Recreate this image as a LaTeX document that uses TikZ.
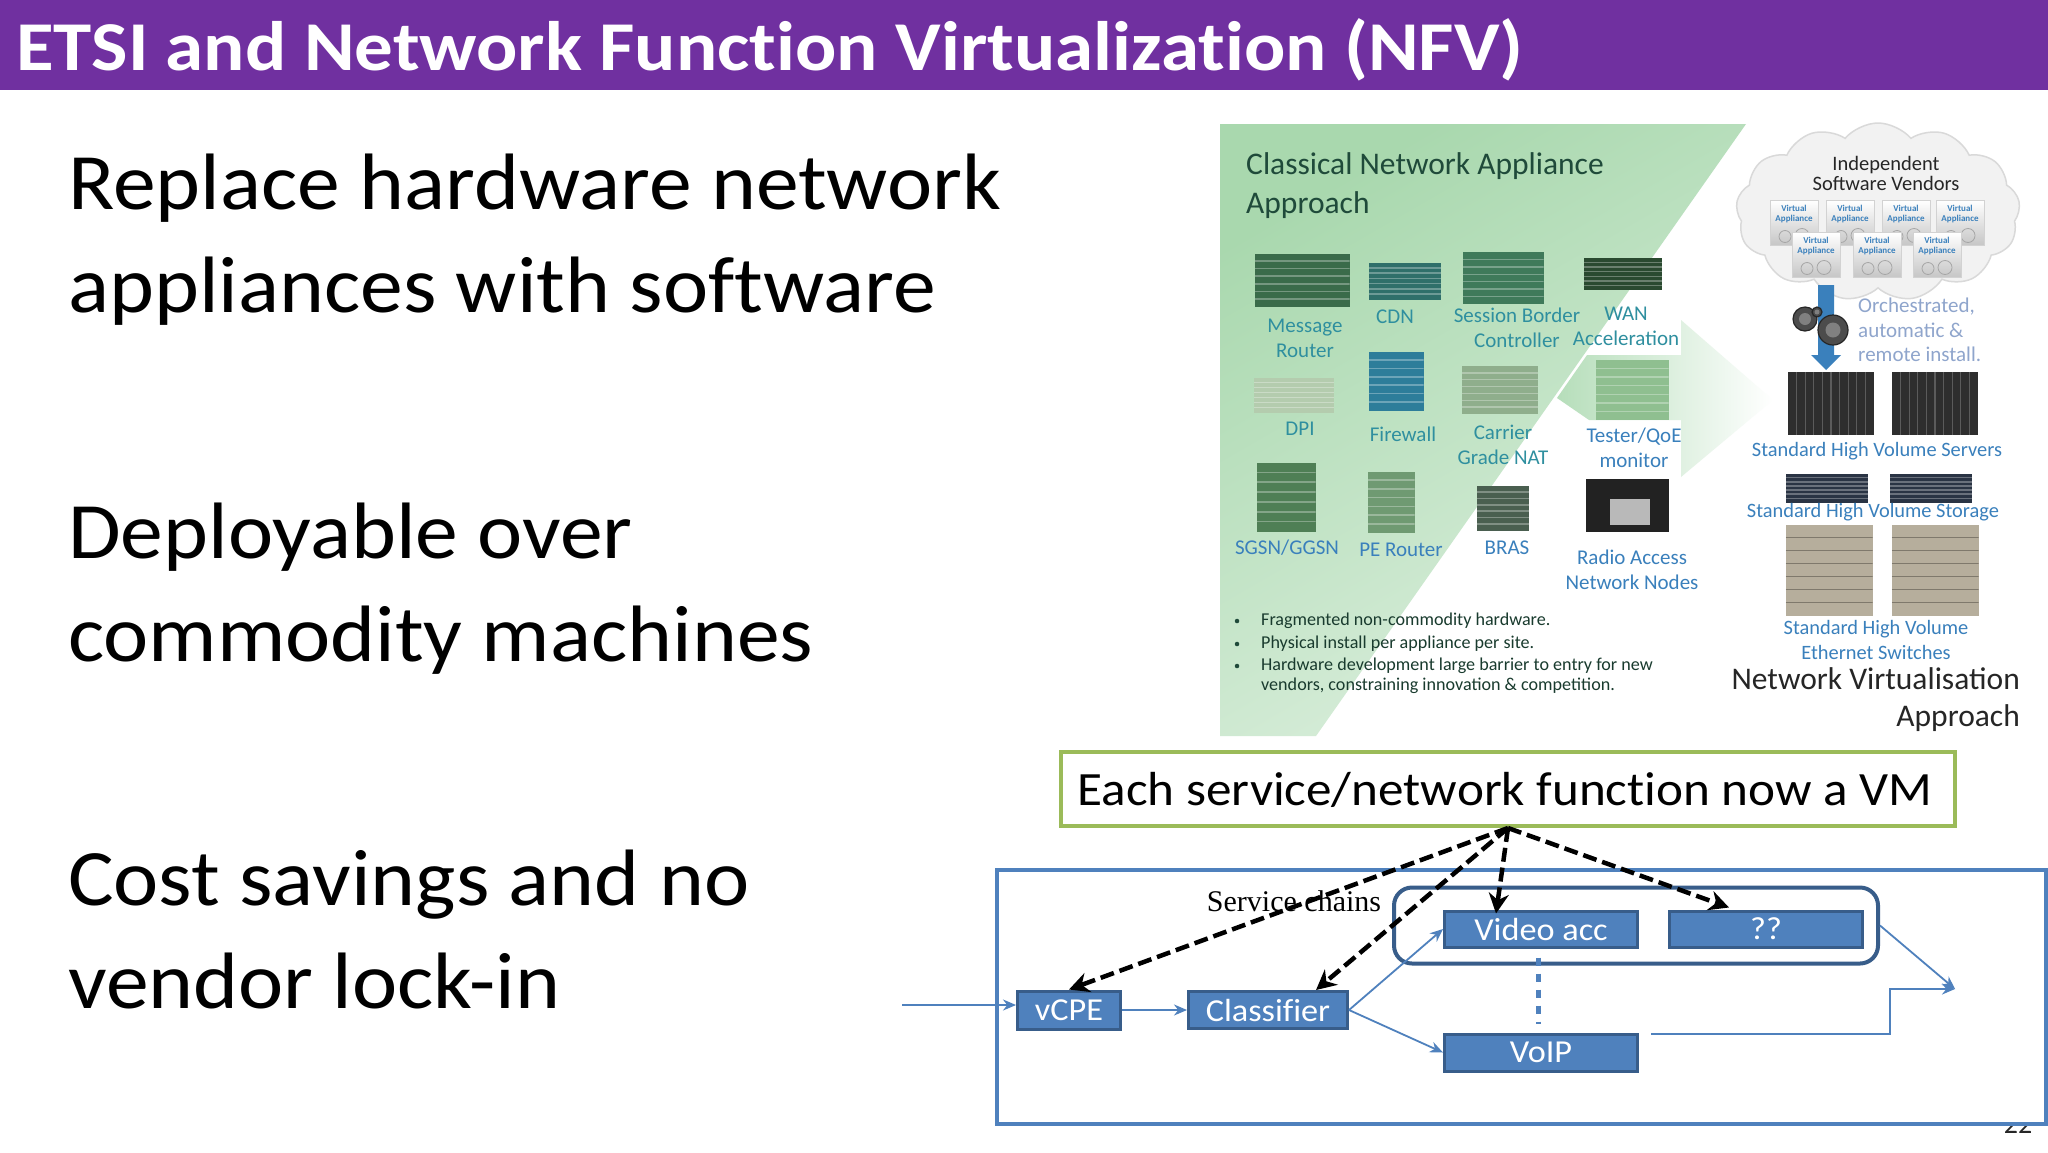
\documentclass[tikz,border=0pt]{standalone}
\usepackage{fontspec}
\setmainfont{Carlito}
\newfontfamily\timesfont{Liberation Serif}
\newfontfamily\slidefont{Carlito}[FakeStretch=1.07,Ligatures=NoCommon,BoldFeatures={FakeStretch=1.1}]
\usetikzlibrary{shapes,arrows,arrows.meta,positioning,fit,calc}
\definecolor{headpurple}{HTML}{7030A0}
\definecolor{vmblue}{HTML}{4F81BD}
\definecolor{vmedge}{HTML}{385D8A}
\definecolor{vmgreen}{HTML}{9BBB59}
\definecolor{classicgreen}{HTML}{A9D8AE}
\definecolor{inkgreen}{HTML}{1F4A3A}
\definecolor{tealtext}{HTML}{2F8F9F}
\definecolor{bluetext}{HTML}{3A80BC}
\definecolor{orchtext}{HTML}{8FA5CC}
\definecolor{cloudfill}{HTML}{F2F2F2}
\definecolor{radiobg}{HTML}{222222}
\begin{document}
\begin{tikzpicture}[
        x=1pt, y=-1pt,
        node distance=30pt,
        point/.style={font=\slidefont\fontsize{80}{100}\selectfont, anchor=base west, inner sep=0pt},
        hwlabel/.style={font=\fontsize{21}{25}\selectfont, text=tealtext, align=center, inner sep=0pt},
        nvlabel/.style={font=\fontsize{20.4}{25}\selectfont, text=bluetext, align=center, inner sep=0pt},
        bullettxt/.style={font=\fontsize{18.1}{22}\selectfont, text=inkgreen!80!black, anchor=west, inner sep=0pt},
        heading/.style={font=\fontsize{31.5}{40}\selectfont, inner sep=0pt},
        racklines/.style={path picture={
            \foreach \k in {1,...,6}
                \draw[#1, opacity=0.3, line width=1.5pt]
                    ($(path picture bounding box.south west)!\k/7!(path picture bounding box.north west)$) --
                    ($(path picture bounding box.south east)!\k/7!(path picture bounding box.north east)$);
        }},
        bladelines/.style={path picture={
            \foreach \k in {1,...,9}
                \draw[white, opacity=0.22, line width=1.2pt]
                    ($(path picture bounding box.south west)!\k/10!(path picture bounding box.south east)$) --
                    ($(path picture bounding box.north west)!\k/10!(path picture bounding box.north east)$);
        }},
        appliance/.style={rectangle, inner sep=0pt, outer sep=0pt},
        vappl/.style={rectangle, draw=gray!35, line width=0.8pt, top color=white, bottom color=gray!45,
            minimum width=48pt, minimum height=45pt, inner sep=1pt, anchor=center,
            path picture={
                \draw[gray!70, line width=0.8pt] ([xshift=-9pt,yshift=9pt]path picture bounding box.south) circle (6pt);
                \draw[gray!70, line width=0.8pt] ([xshift=8pt,yshift=10pt]path picture bounding box.south) circle (7pt);
            }},
        vnf/.style={rectangle, draw=vmedge, line width=3pt, fill=vmblue, text=white, inner sep=0pt,
            font=\slidefont\fontsize{32}{36}\selectfont},
        flow/.style={-{Stealth[length=13pt,width=11pt]}, draw=vmblue, line width=1.8pt},
        mapping/.style={-{Stealth[length=20pt,width=20pt]}, line width=4.5pt, black, dash pattern=on 14pt off 6pt}
    ]
    \useasboundingbox (0,0) rectangle (2048,1152);
    \fill[white] (0,0) rectangle (2048,1152);

    % Title bar
    \node[rectangle, fill=headpurple, minimum width=2048pt, minimum height=90pt, inner sep=0pt] (bar) at (1024,45) {};
    \node[font=\slidefont\bfseries\fontsize{70}{80}\selectfont, text=white, anchor=base west, inner sep=0pt] (title) at (16,70) {ETSI and Network Function Virtualization (NFV)};

    % Left column
    \node[point] (p1a) at (68,209) {Replace hardware network};
    \node[point] (p1b) at (68,312) {appliances with software};
    \node[point] (p2a) at (68,558) {Deployable over};
    \node[point] (p2b) at (68,661) {commodity machines};
    \node[point] (p3a) at (68,905) {Cost savings and no};
    \node[point] (p3b) at (68,1008) {vendor lock-in};

    % Classical panel with its arrow
    \shade[top color=classicgreen, bottom color=classicgreen!40, shading angle=30] (1220,124) -- (1746,124) -- (1316,736) -- (1220,736) -- cycle;
    \shade[left color=classicgreen!85, right color=white] (1587,355) -- (1681,355) -- (1681,320) -- (1773,400) -- (1681,477) -- (1681,420) -- (1589,420) -- (1557,398) -- cycle;
    \node[heading, text=inkgreen, anchor=west] (classical) at (1246,166) {Classical Network Appliance};
    \node[heading, text=inkgreen, anchor=west] (classicalb) at (1246,205) {Approach};

    % Classical appliances
    \foreach \nm/\cx/\cy/\w/\h/\col in {
        msg/1302/280/95/53/3A6B4A, cdn/1405/281/72/37/2F6F6A, sbc/1503/278/81/52/3F7A5A, wan/1623/274/78/32/2A4A30,
        dpi/1294/395/80/35/B4CCAE, fw/1396/381/55/59/2D7D9A, nat/1500/390/76/48/8FAE8C, qoe/1632/390/73/60/8FBF90,
        sgsn/1286/497/59/69/4F7F55, pe/1391/502/47/61/6F9A72, bras/1503/508/52/45/4A5F50}{
        \definecolor{applcol}{HTML}{\col}
        \node[appliance, racklines=white, fill=applcol, minimum width=\w pt, minimum height=\h pt] (\nm) at (\cx,\cy) {};
    }
    \node[rectangle, fill=white, minimum width=92pt, minimum height=63pt] (radioback) at (1627,502) {};
    \node[rectangle, fill=radiobg, minimum width=83pt, minimum height=53pt, inner sep=0pt] (radio) at (1627,505) {};
    \node[rectangle, fill=gray!55, minimum width=40pt, minimum height=26pt, inner sep=0pt] (radioscreen) at (1630,512) {};

    % Classical labels
    \foreach \cx/\cy/\txt [count=\n] in {
        1305/338/{Message\\Router}, 1395/317/CDN, 1517/328/{Session Border\\Controller}, 1626/326/{WAN\\Acceleration},
        1300/429/DPI, 1403/434/Firewall, 1503/445/{Carrier\\Grade NAT}}
        \node[hwlabel] (hw\n) at (\cx,\cy) {\txt};
    \foreach \cx/\cy/\txt [count=\n] in {
        1634/448/{Tester/QoE\\monitor}, 1287/548/{SGSN/GGSN}, 1401/550/{PE Router}, 1507/548/BRAS, 1632/570/{Radio Access\\Network Nodes}}
        \node[hwlabel, text=bluetext] (hwb\n) at (\cx,\cy) {\txt};

    % Bullets
    \foreach \yy [count=\n] in {621,644,666}
        \node[circle, fill=inkgreen, inner sep=1.6pt] (dot\n) at (1237,\yy) {};
    \node[bullettxt] (b1) at (1261,621) {Fragmented non-commodity hardware.};
    \node[bullettxt] (b2) at (1261,644) {Physical install per appliance per site.};
    \node[bullettxt] (b3) at (1261,666) {Hardware development  large barrier to entry for new};
    \node[bullettxt] (b4) at (1261,686) {vendors, constraining innovation \& competition.};

    % Software vendors cloud
    \node[shape=cloud, cloud puffs=13, cloud puff arc=100, aspect=1.6, draw=gray!30, fill=cloudfill, line width=1.5pt,
        minimum width=284pt, minimum height=178pt] (isv) at (1878,212) {};
    \node[font=\fontsize{20.5}{20}\selectfont, text=black!85, align=center, inner sep=0pt] (isvtxt) at (1886,173) {Independent\\Software Vendors};
    \foreach \nm/\cx/\cy in {va1/1794/223, va2/1850/223, va3/1906/223, va4/1960/223, va5/1816/255, va6/1877/255, va7/1937/255}
        \node[vappl, align=center, text=bluetext, font=\bfseries\fontsize{9}{10}\selectfont, text depth=20pt] (\nm) at (\cx,\cy) {Virtual\\Appliance};

    % Install arrow and gears
    \fill[bluetext] (1818,285) -- (1834,285) -- (1834,355) -- (1841,355) -- (1826,370) -- (1811,355) -- (1818,355) -- cycle;
    \foreach \nm/\cx/\cy/\r in {g1/1805/319/12, g2/1817/312/5, g3/1833/330/15}{
        \node[circle, fill=black!70, draw=black!85, line width=1.2pt, minimum size=2*\r pt, inner sep=0pt] (\nm) at (\cx,\cy) {};
        \node[circle, fill=gray, minimum size=\r pt, inner sep=0pt] (\nm in) at (\cx,\cy) {};
    }
    \node[font=\fontsize{21}{24.5}\selectfont, text=orchtext, align=left, anchor=north west, inner sep=0pt] (orch) at (1858,298) {Orchestrated,\\automatic \&\\remote install.};

    % Commodity hardware
    \foreach \nm/\cx in {srv1/1831, srv2/1935}
        \node[appliance, bladelines, fill=black!82, minimum width=86pt, minimum height=63pt] (\nm) at (\cx,403) {};
    \foreach \nm/\cx in {sto1/1827, sto2/1931}
        \node[appliance, racklines=white, fill={rgb,255:red,42;green,52;blue,68}, minimum width=82pt, minimum height=29pt] (\nm) at (\cx,488) {};
    \foreach \nm/\cx in {sw1/1829, sw2/1935}
        \node[appliance, racklines=black, fill={rgb,255:red,182;green,174;blue,156}, minimum width=87pt, minimum height=91pt] (\nm) at (\cx,570) {};
    \node[nvlabel] (srvlbl) at (1877,451) {Standard High Volume Servers};
    \node[nvlabel] (stolbl) at (1873,512) {Standard High Volume Storage};
    \node[nvlabel] (swlbl) at (1876,640) {Standard High Volume\\Ethernet Switches};
    \node[heading, text=black!85, anchor=east] (nvhead) at (2020,679) {Network Virtualisation};
    \node[heading, text=black!85, anchor=east] (nvheadb) at (2020,718) {Approach};

    % Page number, cut by the frame
    \node[font=\fontsize{28}{30}\selectfont, text=black!85, inner sep=0pt] (page) at (2018,1124) {22};

    % Service chain frame
    \node[rectangle, draw=vmblue, fill=white, line width=4pt, minimum width=1049pt, minimum height=254pt, inner sep=0pt] (frame) at (1521.5,997) {};
    \node[rectangle, draw=vmgreen, line width=4pt, minimum width=894pt, minimum height=74pt, inner sep=0pt] (vmnote) at (1508,789) {};
    \node[font=\slidefont\fontsize{47.8}{52}\selectfont, inner sep=0pt] (vmtxt) at (1505,790) {Each service/network function now a VM};
    \node[rectangle, rounded corners=18pt, draw=vmedge, line width=4pt, minimum width=484pt, minimum height=76pt, inner sep=0pt] (chain) at (1636,925.5) {};
    \node[font=\timesfont\fontsize{30}{32}\selectfont, inner sep=0pt] (chainlbl) at (1294,901) {Service chains};

    % Functions
    \node[vnf, minimum width=103pt, minimum height=38pt] (vcpe) at (1069,1010) {vCPE};
    \node[vnf, minimum width=159pt, minimum height=37pt, right=65pt of vcpe] (classifier) {Classifier};
    \node[vnf, minimum width=193pt, minimum height=36pt] (video) at (1541,929) {Video acc};
    \node[vnf, minimum width=193pt, minimum height=36pt, right=29pt of video] (qq) {??};
    \node[vnf, minimum width=193pt, minimum height=37pt, below=84pt of video] (voip) {VoIP};

    % Traffic
    \coordinate (inlet) at (902,1005);
    \coordinate (outlet) at (1955,989);
    \coordinate (voipout) at (1651,1034);
    \draw[flow] (inlet) -- (vcpe.west |- inlet);
    \draw[flow] (vcpe.east) -- (classifier.west);
    \draw[flow] (classifier.east) -- (video.west);
    \draw[flow] (classifier.east) -- (voip.west);
    \draw[flow] (chain.east) -- (outlet);
    \draw[flow] (voipout) -- (1890,1034) |- (outlet);
    \draw[vmblue, line width=5pt, dash pattern=on 8pt off 8pt, shorten >=9pt, shorten <=9pt] ([xshift=-3pt]video.south) -- ([xshift=-3pt]voip.north);

    % VM mapping
    \draw[mapping] (vmnote.south) -- (vcpe.north);
    \draw[mapping] (vmnote.south) -- ([xshift=48pt]classifier.north);
    \draw[mapping] (vmnote.south) -- ([xshift=-45pt,yshift=-4pt]video.north);
    \draw[mapping] (vmnote.south) -- ([xshift=-37pt,yshift=2pt]qq.north);
\end{tikzpicture}
\end{document}
